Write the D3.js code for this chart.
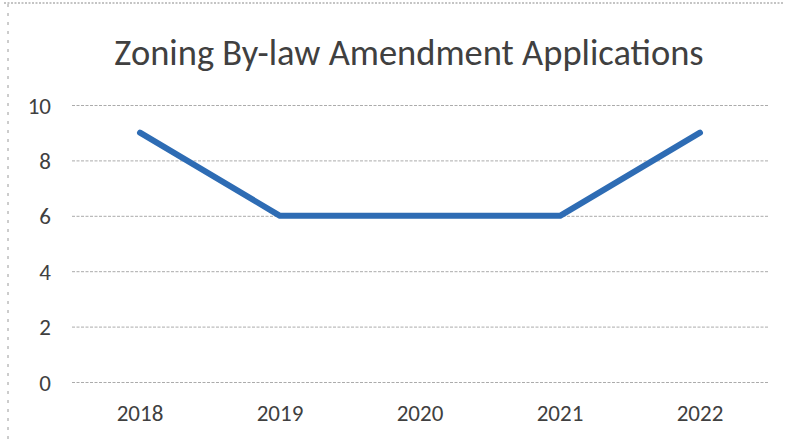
<!DOCTYPE html>
<html>
<head>
<meta charset="utf-8">
<script src="https://cdn.jsdelivr.net/npm/d3@7"></script>
<style>
  html, body { margin: 0; padding: 0; background: #fff; }
  svg { display: block; }
  text { font-family: Carlito, "Open Sans", "Noto Sans", sans-serif; fill: #404040; }
</style>
</head>
<body>
<svg id="chart" width="786" height="442"></svg>
<script>
// Applications per year
const years = ["2018", "2019", "2020", "2021", "2022"];
const applications = [9, 6, 6, 6, 9];
const yTicks = [0, 2, 4, 6, 8, 10];
const chartTitle = "Zoning By-law Amendment Applications";

const svg = d3.select("#chart");
const W = 786, H = 442;
const margin = { top: 105, right: 16, bottom: 60, left: 70 };

const x = d3.scaleBand().domain(years).range([margin.left, W - margin.right]);
const y = d3.scaleLinear().domain([0, 10]).range([H - margin.bottom, margin.top]);

// Dotted frame edges along the top and left
svg.append("line")
  .attr("x1", 4).attr("x2", W - 2).attr("y1", 3).attr("y2", 3)
  .attr("stroke", "#8a8a8a").attr("stroke-width", 1.2)
  .attr("stroke-dasharray", "2,1.5");
svg.append("line")
  .attr("x1", 8).attr("x2", 8).attr("y1", 4).attr("y2", H)
  .attr("stroke", "#9a9a9a").attr("stroke-width", 1)
  .attr("stroke-dasharray", "3,6");

// Title
svg.append("text")
  .attr("x", W / 2 + 16).attr("y", 65)
  .attr("text-anchor", "middle")
  .attr("font-size", 36.5)
  .attr("fill", "#3a3a3a")
  .text(chartTitle);

// Horizontal gridlines
const yAxis = d3.axisLeft(y).tickValues(yTicks).tickSize(-(W - margin.left - margin.right - 4)).tickPadding(30);
const gy = svg.append("g").attr("transform", `translate(${margin.left + 2},0)`).call(yAxis);
gy.select(".domain").remove();
gy.selectAll(".tick line")
  .attr("stroke", "#ababab").attr("stroke-width", 1)
  .attr("stroke-dasharray", "3,1.5");
gy.selectAll(".tick text")
  .attr("font-size", 23)
  .attr("fill", "#404040")
  .attr("x", -21)
  .attr("dy", "0.35em");

// Category axis labels
const xAxis = d3.axisBottom(x).tickSize(0).tickPadding(23);
const gx = svg.append("g").attr("transform", `translate(0,${H - margin.bottom})`).call(xAxis);
gx.select(".domain").remove();
gx.selectAll(".tick text").attr("font-size", 23).attr("fill", "#404040");

// Series line
const line = d3.line()
  .x((d, i) => x(years[i]) + x.bandwidth() / 2)
  .y(d => y(d));
svg.append("path")
  .datum(applications)
  .attr("d", line)
  .attr("fill", "none")
  .attr("stroke", "#2e6cb4")
  .attr("stroke-width", 6)
  .attr("stroke-linecap", "round")
  .attr("stroke-linejoin", "round");
</script>
</body>
</html>
